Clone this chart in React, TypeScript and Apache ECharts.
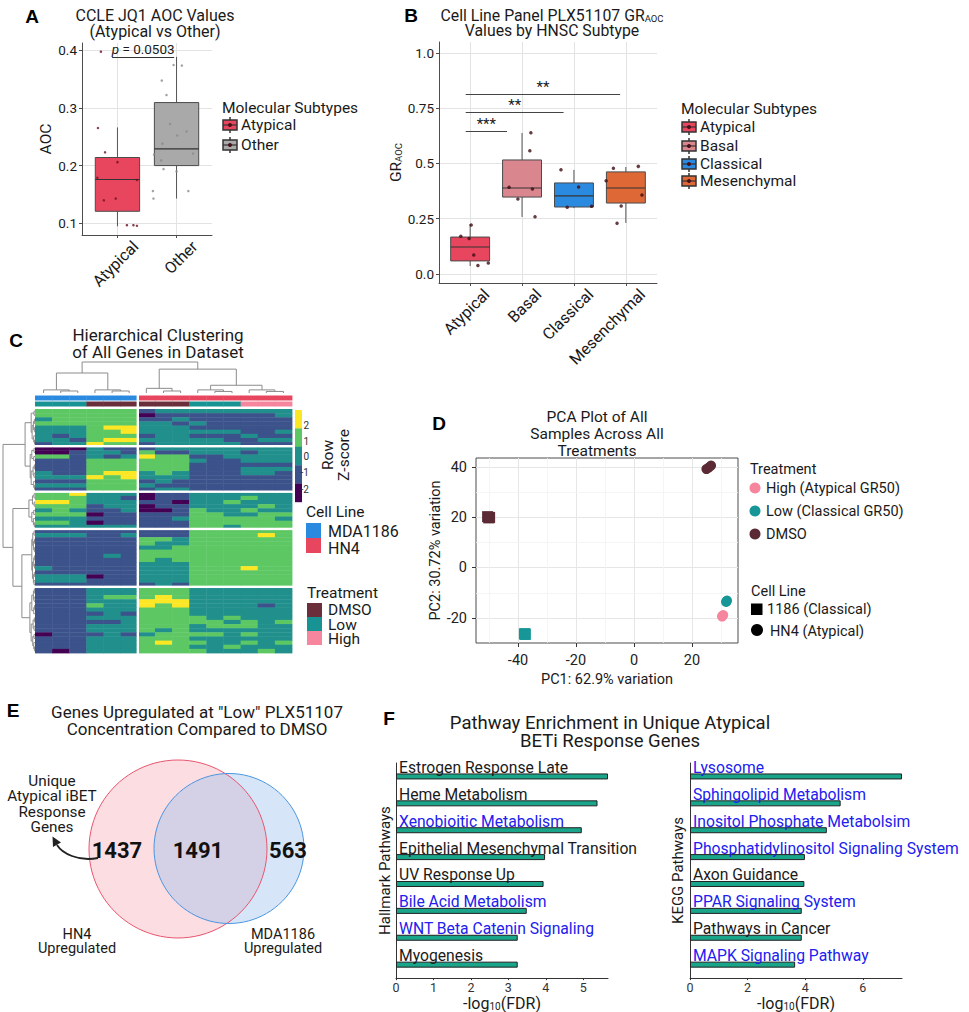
import React, { useEffect, useRef } from 'react';
import * as echarts from 'echarts';

const FONT = 'Roboto, "Noto Sans", "DejaVu Sans", sans-serif';
const LETTER_FONT = '"Liberation Sans", Arial, sans-serif';
const INK = '#1a1a1a';
const GRID_LINE = '#e3e3e3';
const AXIS = '#4d4d4d';
const LINK = '#2020f0';

// ---------------- Panel A ----------------
const aCategories = ['Atypical', 'Other'];
const aBoxMin = [0.095, 0.143];
const aBoxQ1 = [0.121, 0.2];
const aBoxMedian = [0.176, 0.229];
const aBoxQ3 = [0.214, 0.309];
const aBoxMax = [0.266, 0.388];
const aYTicks = [0.1, 0.2, 0.3, 0.4];
const aAtypicalJitter = [-0.28, -0.33, -0.21, 0.0, -0.34, 0.33, -0.23, -0.03, 0.16, 0.27, 0.33];
const aAtypicalValues = [0.397, 0.265, 0.223, 0.206, 0.179, 0.175, 0.14, 0.143, 0.097, 0.097, 0.096];
const aOtherJitter = [-0.05, 0.09, -0.25, -0.17, -0.11, 0.01, 0.17, -0.24, -0.38, 0.28, -0.26, -0.22, 0.0, -0.4, 0.2, -0.39];
const aOtherValues = [0.374, 0.373, 0.347, 0.322, 0.272, 0.252, 0.259, 0.238, 0.219, 0.221, 0.209, 0.194, 0.19, 0.156, 0.156, 0.143];
const aTestP = '0.0503';
const aTestFrom = -0.09;
const aTestTo = 0.96;
const aTestY = 0.388;

// ---------------- Panel B ----------------
const bCategories = ['Atypical', 'Basal', 'Classical', 'Mesenchymal'];
const bBoxMin = [0.036, 0.258, 0.298, 0.231];
const bBoxQ1 = [0.059, 0.348, 0.303, 0.321];
const bBoxMedian = [0.122, 0.389, 0.353, 0.389];
const bBoxQ3 = [0.167, 0.516, 0.412, 0.462];
const bBoxMax = [0.226, 0.638, 0.471, 0.484];
const bYTicks = [0, 0.25, 0.5, 0.75, 1];
const bPointGroup = [0, 0, 0, 0, 0, 0, 1, 1, 1, 1, 1, 1, 2, 2, 2, 2, 3, 3, 3, 3, 3, 3];
const bPointJitter = [-0.18, -0.02, 0.02, 0.07, 0.15, 0.35, 0.17, 0.15, -0.25, 0.2, -0.08, 0.25, -0.25, 0.09, -0.13, 0.34, -0.24, 0.24, -0.38, 0.31, -0.09, -0.17];
const bPointValues = [0.171, 0.16, 0.222, 0.086, 0.038, 0.05, 0.639, 0.558, 0.392, 0.385, 0.339, 0.259, 0.472, 0.394, 0.302, 0.306, 0.478, 0.487, 0.422, 0.357, 0.308, 0.229];
const bSigLabels = ['***', '**', '**'];
const bSigFrom = [-0.086, -0.086, -0.086];
const bSigTo = [0.71, 1.8, 2.89];
const bSigY = [0.647, 0.733, 0.814];

const subtypeColors = ['#e8465f', '#d9868f', '#2a8ae0', '#df6936'];
const aColors = ['#e8465f', '#a9a9a9'];

// ---------------- Panel C ----------------
// P=-2 B=-1 T=0 G=1 Y=2 (row z-score levels)
const zLevels = 'PBTGY';
const zColors = ['#440154', '#3b528b', '#21908c', '#5dc863', '#fde725'];
const zLabels = ['2', '1', '0', '-1', '-2'];
const heatRows = [
  'GGGGGGBTTTTTTTT', 'GGGGGGPBBBBBBBT', 'TGGGGGBBTBBBBBB', 'GGGGGGTTBTBBBBB', 'TTTGYYTTTBBBBBB',
  'TTTGGYTTTTTTBBT', 'TBTGGGBTTBBBTBB', 'TTBGYYTTTTTBBTT', 'BTTYGGBTTTTTBBB',
  'PPPTBBBTTTTTTTT', 'PPBTTBGBBTTTBTT', 'GGBTBTYGGBBTTTT', 'BBBGGGGGGTBBTTT', 'BBBGGGGGGBBBBBB',
  'BBBGGGGGGBBBTTT', 'TBBGYYTGTBBBTTB', 'TTTYGYTTTBBBBBB', 'BBBGGGBTBBBBBBB', 'TTTGGGTBBBBBBBB',
  'BBBGGGBTTBBBBBB',
  'GGYTTTPBBTTTTTT', 'GGGTTBPBBTTTGTT', 'YYGTTTBBPTTGTTT', 'GGGBTTPBBTTTTGT', 'TGTBBTPPBGTTGTT',
  'GGGPBBBBBGGTTGG', 'TTTBBBBBTGGGGGT', 'GGTPBBBBBGGGGGG', 'TTTTTTBBBGGTGGG',
  'BBBBBBBBBGGGGGG', 'TTTBBTBBBGGGGYG', 'BBBBBBGGTGGGGGG', 'BBBBBBGTTGGGGGG', 'BBBBBBTTGGGGGGG',
  'BBBBBBGGGGGGGGG', 'BBBBTBGGGGGGGGG', 'BBBBBBGTGGGGGGG', 'BBBBBBTTTGGGGGG', 'TBBBBBTTTGGGYGG',
  'BBBBBBTTTGGGGGG', 'TTTPBBTTTGGGGGG', 'TTTBBBTTTGGGGGG', 'BBBBBBBTBGGGGGG',
  'BBBTTTGGGTTTTTT', 'BBBTTTGGGTTTTTT', 'BBBTGGGYGTTTTTT', 'BBBTTTYYYTTTTTT', 'BBBGTTYGYTTTTBT',
  'BBBTTTGGGTTTTTT', 'BBBBTBGGGTTTTTT', 'BBBTTTGGGGTGTTT', 'BBBBBTGGGGGTGTG', 'BBBTTTGGGTGGGTT',
  'BBBTTTGTGTTTTTT', 'PBBBTBTGGGGTGTT', 'BBBTTTGGGTTTTTT', 'BBBTTTGYGGTTGTG', 'BBBTTTGGGTTGTTT',
  'BPBTTTGGGGTTTGT',
];
const heatRowBreaks = [9, 20, 29, 43];
const heatColBreaks = [6];
const cellLineByCol = ['MDA1186', 'MDA1186', 'MDA1186', 'MDA1186', 'MDA1186', 'MDA1186', 'HN4', 'HN4', 'HN4', 'HN4', 'HN4', 'HN4', 'HN4', 'HN4', 'HN4'];
const treatmentByCol = ['Low', 'Low', 'Low', 'DMSO', 'DMSO', 'DMSO', 'DMSO', 'DMSO', 'DMSO', 'Low', 'Low', 'Low', 'High', 'High', 'High'];
const annotNames = ['MDA1186', 'HN4', 'DMSO', 'Low', 'High'];
const annotColors = ['#2a8ae0', '#e8465f', '#6b2f3c', '#179393', '#f5869e'];
// dendrograms: node = [height, left, right], leaf = index
const colTree = [1.0,
  [0.645, [0.1, 0, [0.065, 1, 2]], [0.1, 3, [0.065, 4, 5]]],
  [0.77, [0.15, 6, [0.065, 7, 8]], [0.25, [0.1, 9, [0.05, 10, 11]], [0.1, 12, [0.05, 13, 14]]]]];
const rowB1 = [0.12, [0.03, 0, 1], [0.09, [0.05, [0.02, 2, 3], [0.02, 4, 5]], [0.04, 6, [0.015, 7, 8]]]];
const rowB2 = [0.15, [0.1, [0.03, 9, 10], [0.04, 11, 12]], [0.12, [0.06, [0.02, 13, 14], [0.03, 15, 16]], [0.04, 17, [0.015, 18, 19]]]];
const rowB3 = [0.19, [0.08, [0.03, 20, 21], [0.025, 22, 23]], [0.1, [0.04, 24, 25], [0.05, 26, [0.02, 27, 28]]]];
const rowB4 = [0.1, [0.07, [0.03, 29, 30], [0.05, [0.015, 31, 32], [0.02, 33, 34]]], [0.08, [0.04, [0.02, 35, 36], [0.015, 37, 38]], [0.05, [0.02, 39, 40], [0.03, 41, 42]]]];
const rowB5 = [0.16, [0.1, [0.05, [0.02, 43, 44], [0.03, 45, 46]], [0.04, [0.015, 47, 48], 49]], [0.12, [0.06, [0.02, 50, 51], [0.03, 52, 53]], [0.07, [0.03, 54, 55], [0.04, 56, [0.015, 57, 58]]]]];
const rowTree = [1.0, [0.31, rowB1, rowB2], [0.69, rowB3, [0.41, rowB4, rowB5]]];

// ---------------- Panel D ----------------
const pcaPC1 = [-50.5, -50.1, -49.8, -37.8, -37.5, -37.6, 25.0, 25.8, 26.6, 31.9, 32.1, 31.8, 30.5, 30.8, 30.4];
const pcaPC2 = [20.3, 19.8, 20.0, -26.3, -26.5, -26.2, 39.2, 39.8, 40.6, -13.4, -13.0, -13.6, -19.2, -18.8, -19.4];
const pcaTreatment = ['DMSO', 'DMSO', 'DMSO', 'Low', 'Low', 'Low', 'DMSO', 'DMSO', 'DMSO', 'Low', 'Low', 'Low', 'High', 'High', 'High'];
const pcaCellLine = ['1186', '1186', '1186', '1186', '1186', '1186', 'HN4', 'HN4', 'HN4', 'HN4', 'HN4', 'HN4', 'HN4', 'HN4', 'HN4'];
const pcaTreatments = ['High', 'Low', 'DMSO'];
const pcaTreatmentLabels = ['High (Atypical GR50)', 'Low (Classical GR50)', 'DMSO'];
const pcaTreatmentColors = ['#f5869e', '#169696', '#5b2a35'];
const pcaCellLines = ['1186', 'HN4'];
const pcaCellLineLabels = ['1186 (Classical)', 'HN4 (Atypical)'];
const pcaXTicks = [-40, -20, 0, 20];
const pcaYTicks = [-20, 0, 20, 40];
const pcaXMinor = [-50, -30, -10, 10, 30];
const pcaYMinor = [-10, 10, 30];

// ---------------- Panel E ----------------
const vennCounts = [1437, 1491, 563];
const vennSetLabels = ['HN4\nUpregulated', 'MDA1186\nUpregulated'];

// ---------------- Panel F ----------------
const hallmarkPathways = ['Estrogen Response Late', 'Heme Metabolism', 'Xenobioitic Metabolism', 'Epithelial Mesenchymal Transition', 'UV Response Up', 'Bile Acid Metabolism', 'WNT Beta Catenin Signaling', 'Myogenesis'];
const hallmarkScores = [5.66, 5.38, 4.96, 3.98, 3.94, 3.49, 3.25, 3.25];
const hallmarkLinked = [false, false, true, false, false, true, true, false];
const keggPathways = ['Lysosome', 'Sphingolipid Metabolism', 'Inositol Phosphate Metabolsim', 'Phosphatidylinositol Signaling System', 'Axon Guidance', 'PPAR Signaling System', 'Pathways in Cancer', 'MAPK Signaling Pathway'];
const keggScores = [7.36, 5.23, 4.75, 3.99, 3.97, 3.88, 3.88, 3.65];
const keggLinked = [true, true, true, true, false, true, false, true];

// ---------------- helpers ----------------
function txt(x: number, y: number, text: string, o: any = {}) {
  return {
    type: 'text', x, y, rotation: o.rotation || 0, silent: true, z: 10,
    style: {
      text, fill: o.color || INK, fontSize: o.size || 14, fontFamily: o.family || FONT,
      fontWeight: o.weight || 'normal', fontStyle: o.italic ? 'italic' : 'normal',
      align: o.align || 'left', verticalAlign: o.va || 'middle', lineHeight: o.lh, rich: o.rich,
    },
  };
}

function boxKey(x: number, y: number, fill: string) {
  return {
    type: 'group', silent: true, z: 10, children: [
      { type: 'line', shape: { x1: x + 7, y1: y - 8, x2: x + 7, y2: y + 8 }, style: { stroke: '#333', lineWidth: 1.5 } },
      { type: 'rect', shape: { x, y: y - 5, width: 14, height: 10 }, style: { fill, stroke: '#333', lineWidth: 1.5 } },
      { type: 'line', shape: { x1: x, y1: y, x2: x + 14, y2: y }, style: { stroke: '#333', lineWidth: 1.2 } },
      { type: 'circle', shape: { cx: x + 7, cy: y, r: 2 }, style: { fill: '#4a0f18' } },
    ],
  };
}

function boxRenderer(fills: string[]) {
  return (params: any, api: any) => {
    const x = api.value(0);
    const lo = api.coord([x, api.value(1)]);
    const q1 = api.coord([x, api.value(2)]);
    const md = api.coord([x, api.value(3)]);
    const q3 = api.coord([x, api.value(4)]);
    const hi = api.coord([x, api.value(5)]);
    const half = api.size([0.75, 0])[0] / 2;
    const ws = { stroke: '#555', lineWidth: 1 };
    return {
      type: 'group', children: [
        { type: 'line', shape: { x1: lo[0], y1: lo[1], x2: q1[0], y2: q1[1] }, style: ws },
        { type: 'line', shape: { x1: q3[0], y1: q3[1], x2: hi[0], y2: hi[1] }, style: ws },
        { type: 'rect', shape: { x: q1[0] - half, y: q3[1], width: 2 * half, height: q1[1] - q3[1] }, style: { fill: fills[params.dataIndex], stroke: '#4a4a4a', lineWidth: 1 } },
        { type: 'line', shape: { x1: md[0] - half, y1: md[1], x2: md[0] + half, y2: md[1] }, style: { stroke: '#333', lineWidth: 1.2 } },
      ],
    };
  };
}

function treeSegments(tree: any) {
  const segs: number[][] = [];
  const walk = (n: any): { p: number; h: number } => {
    if (!Array.isArray(n)) return { p: n + 0.5, h: 0 };
    const l = walk(n[1]);
    const r = walk(n[2]);
    segs.push([l.p, l.h, r.p, r.h, n[0]]);
    return { p: (l.p + r.p) / 2, h: n[0] };
  };
  walk(tree);
  return segs;
}

function dendroRenderer(horizontal: boolean) {
  return (params: any, api: any) => {
    const pl = api.value(0), hl = api.value(1), pr = api.value(2), hr = api.value(3), h = api.value(4);
    const pts = horizontal
      ? [[pl, hl], [pl, h], [pr, h], [pr, hr]]
      : [[hl, pl], [h, pl], [h, pr], [hr, pr]];
    return { type: 'polyline', shape: { points: pts.map((p) => api.coord(p)) }, style: { stroke: '#8c8c8c', lineWidth: 1, fill: null } };
  };
}

function cellRenderer(colors: string[], rowBreaks: number[], colBreaks: number[], rowInset: number) {
  return (params: any, api: any) => {
    const c = api.value(0), r = api.value(1), k = api.value(2);
    const a = api.coord([c, r]);
    const b = api.coord([c + 1, r + 1]);
    let x0 = Math.min(a[0], b[0]), x1 = Math.max(a[0], b[0]);
    let y0 = Math.min(a[1], b[1]), y1 = Math.max(a[1], b[1]);
    const ov = 0.4;
    x1 += ov; y1 += ov;
    if (colBreaks.indexOf(c) >= 0) x0 += 1.2;
    if (colBreaks.indexOf(c + 1) >= 0) x1 -= ov + 1.2;
    if (rowBreaks.indexOf(r) >= 0) y0 += 1.2;
    if (rowBreaks.indexOf(r + 1) >= 0) y1 -= ov + 1.2;
    if (rowInset) { y0 += rowInset; y1 -= rowInset + ov; }
    return { type: 'rect', shape: { x: x0, y: y0, width: x1 - x0, height: y1 - y0 }, style: { fill: colors[k] } };
  };
}

const tickFmtB = (v: number) => (v === 0 ? '0.0' : v === 1 ? '1.0' : v === 0.5 ? '0.5' : String(v));

function buildOption() {
  const axisLineStyle = { color: AXIS, width: 1 };
  const catAxis = (grid: number, max: number, cats: string[]) => ({
    gridIndex: grid, type: 'value', min: -0.6, max,
    axisLine: { show: true, onZero: false, lineStyle: axisLineStyle },
    axisTick: { show: true, length: 3, lineStyle: axisLineStyle, customValues: cats.map((_, i) => i) },
    axisLabel: {
      customValues: cats.map((_, i) => i + 0.21), formatter: (v: number) => cats[Math.round(v - 0.21)],
      rotate: 45, verticalAlign: 'top', fontSize: 16, color: INK, fontFamily: FONT, margin: 3,
    },
    splitLine: { show: true, lineStyle: { color: GRID_LINE } },
  });
  const hiddenAxis = (grid: number, min: number, max: number, inverse = false) => ({ gridIndex: grid, type: 'value', min, max, inverse, show: false, axisLine: { onZero: false } });

  const heatData: number[][] = [];
  heatRows.forEach((row, r) => {
    for (let c = 0; c < row.length; c++) heatData.push([c, r, zLevels.indexOf(row[c])]);
  });
  const annotData: number[][] = [];
  cellLineByCol.forEach((v, c) => annotData.push([c, 0, annotNames.indexOf(v)]));
  treatmentByCol.forEach((v, c) => annotData.push([c, 1, annotNames.indexOf(v)]));

  const pcaSeries: any[] = [];
  pcaTreatments.forEach((t, ti) => {
    pcaCellLines.forEach((cl) => {
      const data: number[][] = [];
      pcaPC1.forEach((x, i) => { if (pcaTreatment[i] === t && pcaCellLine[i] === cl) data.push([x, pcaPC2[i]]); });
      if (!data.length) return;
      pcaSeries.push({
        type: 'scatter', xAxisIndex: 6, yAxisIndex: 6, z: 3, silent: true,
        symbol: cl === '1186' ? 'rect' : 'circle', symbolSize: cl === '1186' ? 11 : 10,
        itemStyle: { color: pcaTreatmentColors[ti], opacity: 1 }, data,
      });
    });
  });

  const barSeries = (idx: number, scores: number[], linked: boolean[]) => ({
    type: 'bar', xAxisIndex: idx, yAxisIndex: idx, barWidth: 6, silent: true,
    itemStyle: { color: '#18a58a', borderColor: '#222', borderWidth: 1 },
    label: { show: true, position: [3, 2], align: 'left', verticalAlign: 'bottom', formatter: '{b}', fontSize: 15.7, fontFamily: FONT },
    data: scores.map((v, i) => ({ value: v, label: { color: linked[i] ? LINK : INK } })),
  });

  const fXAxis = (grid: number, max: number, interval: number) => ({
    gridIndex: grid, type: 'value', min: 0, max, interval,
    name: '-log{s|10}(FDR)', nameLocation: 'middle', nameGap: 12,
    nameTextStyle: { fontSize: 16, color: INK, fontFamily: FONT, rich: { s: { fontSize: 10, fontFamily: FONT, color: INK, verticalAlign: 'bottom' } } },
    axisLine: { show: true, onZero: false, lineStyle: { color: '#333' } },
    axisTick: { show: true, length: 2, lineStyle: { color: '#333' } },
    axisLabel: { fontSize: 12.5, color: '#333', fontFamily: FONT, margin: 3, showMaxLabel: false },
    splitLine: { show: false },
  });
  const fYAxis = (grid: number, cats: string[], name: string, gap: number) => ({
    gridIndex: grid, type: 'category', data: cats, inverse: true,
    name, nameLocation: 'middle', nameGap: gap,
    nameTextStyle: { fontSize: 15, color: INK, fontFamily: FONT },
    axisLine: { show: true, onZero: false, lineStyle: { color: '#333' } },
    axisTick: { show: false }, axisLabel: { show: false }, splitLine: { show: false },
  });

  const graphics: any[] = [];
  // panel letters
  [['A', 32, 16], ['B', 411, 15], ['C', 16, 340], ['D', 439, 423], ['E', 13, 710], ['F', 389, 718]].forEach((l: any) =>
    graphics.push(txt(l[1], l[2], l[0], { size: 19, weight: 'bold', family: LETTER_FONT, align: 'center', color: '#000' })));

  // A titles / legend
  graphics.push(txt(155, 23, 'CCLE JQ1 AOC Values\n(Atypical vs Other)', { size: 16, align: 'center', lh: 16 }));
  graphics.push(txt(222, 108, 'Molecular Subtypes', { size: 15.5 }));
  aCategories.forEach((c, i) => {
    graphics.push(boxKey(223, 125 + i * 20, aColors[i]));
    graphics.push(txt(241, 125 + i * 20, c, { size: 15.5 }));
  });
  // B titles / legend
  graphics.push(txt(552, 15, '{t|Cell Line Panel PLX51107 GR}{s|AOC}', { align: 'center', rich: { t: { fontSize: 15.8, fontFamily: FONT, color: INK }, s: { fontSize: 9.5, fontFamily: FONT, color: INK, verticalAlign: 'bottom' } } }));
  graphics.push(txt(552, 30.5, 'Values by HNSC Subtype', { size: 15.8, align: 'center' }));
  graphics.push(txt(681, 109, 'Molecular Subtypes', { size: 15.5 }));
  const bLegY = [127, 146, 164, 181];
  bCategories.forEach((c, i) => {
    graphics.push(boxKey(682, bLegY[i], subtypeColors[i]));
    graphics.push(txt(700, bLegY[i], c, { size: 15.5, lh: 17 }));
  });

  // C title, colour bar, legends
  graphics.push(txt(158, 343, 'Hierarchical Clustering\nof All Genes in Dataset', { size: 17, align: 'center', lh: 17 }));
  zColors.slice().reverse().forEach((col, i) => {
    graphics.push({ type: 'rect', silent: true, shape: { x: 295, y: 410 + i * 18.4, width: 7, height: 18.6 }, style: { fill: col } });
  });
  const zLabelY = [425, 441, 456, 472, 489];
  zLabels.forEach((t, i) => graphics.push(txt(309, zLabelY[i], t, { size: 10, align: 'right', color: '#333' })));
  graphics.push(txt(336, 455, 'Row\nZ-score', { size: 15.5, align: 'center', rotation: Math.PI / 2, lh: 15.5 }));
  graphics.push(txt(306, 512, 'Cell Line', { size: 15.5 }));
  ['MDA1186', 'HN4'].forEach((n, i) => {
    graphics.push({ type: 'rect', silent: true, shape: { x: 306, y: 523 + i * 15, width: 15, height: 15 }, style: { fill: annotColors[annotNames.indexOf(n)] } });
    graphics.push(txt(328, 531 + i * 17.5, n, { size: 16, lh: 17 }));
  });
  graphics.push(txt(307, 593, 'Treatment', { size: 15.5 }));
  ['DMSO', 'Low', 'High'].forEach((n, i) => {
    graphics.push({ type: 'rect', silent: true, shape: { x: 307, y: 603 + i * 14, width: 15, height: 14 }, style: { fill: annotColors[annotNames.indexOf(n)] } });
    graphics.push(txt(328, 610 + i * 14.7, n, { size: 15.5, lh: 14.5 }));
  });

  // D title & legend
  graphics.push(txt(597, 434, 'PCA Plot of All\nSamples Across All\nTreatments', { size: 15.5, align: 'center', lh: 17 }));
  graphics.push(txt(750, 469, 'Treatment', { size: 14.5 }));
  const dLegY = [488, 511, 534];
  pcaTreatmentLabels.forEach((t, i) => {
    graphics.push({ type: 'circle', silent: true, shape: { cx: 755, cy: dLegY[i], r: 5.5 }, style: { fill: pcaTreatmentColors[i] } });
    graphics.push(txt(766, dLegY[i], t, { size: 14.5 }));
  });
  graphics.push(txt(751, 591, 'Cell Line', { size: 14.5 }));
  graphics.push({ type: 'rect', silent: true, shape: { x: 751, y: 603.5, width: 11.5, height: 11.5 }, style: { fill: '#000' } });
  graphics.push(txt(767, 609, pcaCellLineLabels[0], { size: 14.5 }));
  graphics.push({ type: 'circle', silent: true, shape: { cx: 757, cy: 630, r: 6 }, style: { fill: '#000' } });
  graphics.push(txt(770, 631, pcaCellLineLabels[1], { size: 14.5 }));

  // E venn
  graphics.push(txt(197, 720, 'Genes Upregulated at "Low" PLX51107\nConcentration Compared to DMSO', { size: 17, align: 'center', lh: 17 }));
  graphics.push({ type: 'circle', silent: true, shape: { cx: 178, cy: 849, r: 89 }, style: { fill: '#fcdde2' } });
  graphics.push({ type: 'circle', silent: true, shape: { cx: 229, cy: 848.5, r: 75 }, style: { fill: 'rgba(140,185,235,0.36)' } });
  graphics.push({ type: 'circle', silent: true, shape: { cx: 178, cy: 849, r: 89 }, style: { fill: null, stroke: '#e8566e', lineWidth: 1 } });
  graphics.push({ type: 'circle', silent: true, shape: { cx: 229, cy: 848.5, r: 75 }, style: { fill: null, stroke: '#4a96e0', lineWidth: 1 } });
  const vennX = [117, 198, 288];
  vennCounts.forEach((n, i) => graphics.push(txt(vennX[i], 850, String(n), { size: 22, weight: 'bold', align: 'center', color: '#111' })));
  graphics.push(txt(52, 804, 'Unique\nAtypical iBET\nResponse\nGenes', { size: 15.3, align: 'center', lh: 15.3 }));
  graphics.push({ type: 'bezierCurve', silent: true, shape: { x1: 98, y1: 858, cpx1: 78, cpy1: 862, cpx2: 62, cpy2: 853, x2: 57, y2: 845 }, style: { stroke: '#222', lineWidth: 1.8, fill: null } });
  graphics.push({ type: 'polygon', silent: true, shape: { points: [[52.5, 836.5], [61, 842.5], [53, 847]] }, style: { fill: '#222' } });
  graphics.push(txt(77, 941.5, vennSetLabels[0], { size: 14.5, align: 'center', lh: 14.5 }));
  graphics.push(txt(283, 941.5, vennSetLabels[1], { size: 14.5, align: 'center', lh: 14.5 }));

  // F title
  graphics.push(txt(610, 732, 'Pathway Enrichment in Unique Atypical\nBETi Response Genes', { size: 18.5, align: 'center', lh: 18.5 }));

  return {
    animation: false,
    backgroundColor: '#ffffff',
    textStyle: { fontFamily: FONT },
    grid: [
      { left: 82, top: 43, width: 130, height: 192 },
      { left: 439, top: 42, width: 218, height: 241 },
      { left: 35, top: 409, width: 257, height: 244 },
      { left: 35, top: 395, width: 257, height: 12 },
      { left: 35, top: 362, width: 257, height: 31 },
      { left: 3, top: 409, width: 32, height: 244 },
      { left: 476, top: 458, width: 262, height: 185, show: true, borderColor: '#4d4d4d', borderWidth: 1, backgroundColor: 'transparent' },
      { left: 396, top: 763, width: 212, height: 217 },
      { left: 690, top: 763, width: 212, height: 217 },
    ],
    xAxis: [
      catAxis(0, 1.6, aCategories),
      catAxis(1, 3.6, bCategories),
      hiddenAxis(2, 0, 15),
      hiddenAxis(3, 0, 15),
      hiddenAxis(4, 0, 15),
      hiddenAxis(5, 0, 1, true),
      {
        gridIndex: 6, type: 'value', min: -54.5, max: 35.9,
        name: 'PC1: 62.9% variation', nameLocation: 'middle', nameGap: 29,
        nameTextStyle: { fontSize: 14.5, color: INK, fontFamily: FONT },
        axisLine: { show: false, onZero: false },
        axisTick: { show: true, length: 4, lineStyle: { color: '#333' }, customValues: pcaXTicks },
        axisLabel: { customValues: pcaXTicks, fontSize: 14.5, color: '#222', fontFamily: FONT, margin: 10 },
        splitLine: { show: true, lineStyle: { color: '#e6e6e6' } },
      },
      fXAxis(7, Math.max(...hallmarkScores), 1),
      fXAxis(8, Math.max(...keggScores), 2),
    ],
    yAxis: [
      {
        gridIndex: 0, type: 'value', min: 0.08, max: 0.412,
        name: 'AOC', nameLocation: 'middle', nameGap: 18,
        nameTextStyle: { fontSize: 15.5, color: INK, fontFamily: FONT },
        axisLine: { show: true, onZero: false, lineStyle: axisLineStyle },
        axisTick: { show: true, length: 3, lineStyle: axisLineStyle, customValues: aYTicks },
        axisLabel: { customValues: aYTicks, formatter: (v: number) => v.toFixed(1), fontSize: 13.5, color: INK, fontFamily: FONT, margin: 5 },
        splitLine: { show: true, lineStyle: { color: GRID_LINE } },
      },
      {
        gridIndex: 1, type: 'value', min: -0.041, max: 1.05,
        name: 'GR{s|AOC}', nameLocation: 'middle', nameGap: 24,
        nameTextStyle: { fontSize: 15.5, color: INK, fontFamily: FONT, rich: { s: { fontSize: 9.5, fontFamily: FONT, color: INK, verticalAlign: 'bottom' } } },
        axisLine: { show: true, onZero: false, lineStyle: axisLineStyle },
        axisTick: { show: true, length: 3, lineStyle: axisLineStyle, customValues: bYTicks },
        axisLabel: { customValues: bYTicks, formatter: tickFmtB, fontSize: 13.5, color: INK, fontFamily: FONT, margin: 5 },
        splitLine: { show: true, lineStyle: { color: GRID_LINE } },
      },
      hiddenAxis(2, 0, heatRows.length, true),
      hiddenAxis(3, 0, 2, true),
      hiddenAxis(4, 0, 1),
      hiddenAxis(5, 0, heatRows.length, true),
      {
        gridIndex: 6, type: 'value', min: -29.9, max: 43.6,
        name: 'PC2: 30.72% variation', nameLocation: 'middle', nameGap: 30,
        nameTextStyle: { fontSize: 14.5, color: INK, fontFamily: FONT },
        axisLine: { show: false, onZero: false },
        axisTick: { show: true, length: 4, lineStyle: { color: '#333' }, customValues: pcaYTicks },
        axisLabel: { customValues: pcaYTicks, fontSize: 14.5, color: '#222', fontFamily: FONT, margin: 9 },
        splitLine: { show: true, lineStyle: { color: '#e6e6e6' } },
      },
      fYAxis(7, hallmarkPathways, 'Hallmark Pathways', 4),
      fYAxis(8, keggPathways, 'KEGG Pathways', 5),
    ],
    series: [
      // A
      { type: 'custom', xAxisIndex: 0, yAxisIndex: 0, silent: true, z: 2, renderItem: boxRenderer(aColors), encode: { x: 0, y: [1, 2, 3, 4, 5] },
        data: aCategories.map((_, i) => [i, aBoxMin[i], aBoxQ1[i], aBoxMedian[i], aBoxQ3[i], aBoxMax[i]]) },
      { type: 'scatter', xAxisIndex: 0, yAxisIndex: 0, silent: true, z: 3, symbolSize: 2.5, itemStyle: { color: '#6b1020' },
        data: aAtypicalJitter.map((d, i) => [0 + d, aAtypicalValues[i]]),
        markLine: {
          silent: true, symbol: ['none', 'none'], lineStyle: { color: '#333', width: 1, type: 'solid' },
          label: { show: true, position: 'middle', distance: 1, formatter: '{i|p} = ' + aTestP, fontSize: 13.5, color: INK, fontFamily: FONT, rich: { i: { fontStyle: 'italic', fontSize: 13.5, color: INK, fontFamily: FONT } } },
          data: [[{ coord: [aTestFrom, aTestY] }, { coord: [aTestTo, aTestY] }]],
        } },
      { type: 'scatter', xAxisIndex: 0, yAxisIndex: 0, silent: true, z: 3, symbolSize: 2.5, itemStyle: { color: '#8a8a8a' },
        data: aOtherJitter.map((d, i) => [1 + d, aOtherValues[i]]) },
      // B
      { type: 'custom', xAxisIndex: 1, yAxisIndex: 1, silent: true, z: 2, renderItem: boxRenderer(subtypeColors), encode: { x: 0, y: [1, 2, 3, 4, 5] },
        data: bCategories.map((_, i) => [i, bBoxMin[i], bBoxQ1[i], bBoxMedian[i], bBoxQ3[i], bBoxMax[i]]) },
      { type: 'scatter', xAxisIndex: 1, yAxisIndex: 1, silent: true, z: 3, symbolSize: 3.5, itemStyle: { color: '#3d0c14' },
        data: bPointValues.map((v, i) => [bPointGroup[i] + bPointJitter[i], v]),
        markLine: {
          silent: true, symbol: ['none', 'none'], lineStyle: { color: '#444', width: 1.2, type: 'solid' },
          label: { show: true, position: 'middle', distance: 0, formatter: '{b}', fontSize: 15, color: INK, fontFamily: FONT },
          data: bSigLabels.map((lab, i) => [{ name: lab, coord: [bSigFrom[i], bSigY[i]] }, { coord: [bSigTo[i], bSigY[i]] }]),
        } },
      // C
      { type: 'custom', xAxisIndex: 2, yAxisIndex: 2, silent: true, renderItem: cellRenderer(zColors, heatRowBreaks, heatColBreaks, 0), encode: { x: 0, y: 1 }, data: heatData },
      { type: 'custom', xAxisIndex: 3, yAxisIndex: 3, silent: true, renderItem: cellRenderer(annotColors, [], heatColBreaks, 0.5), encode: { x: 0, y: 1 }, data: annotData },
      { type: 'custom', xAxisIndex: 4, yAxisIndex: 4, silent: true, renderItem: dendroRenderer(true), encode: { x: [0, 2], y: [1, 3, 4] }, data: treeSegments(colTree) },
      { type: 'custom', xAxisIndex: 5, yAxisIndex: 5, silent: true, renderItem: dendroRenderer(false), encode: { x: [1, 3, 4], y: [0, 2] }, data: treeSegments(rowTree) },
      // D
      { type: 'scatter', xAxisIndex: 6, yAxisIndex: 6, silent: true, z: 1, data: [],
        markLine: { silent: true, z: 1, symbol: ['none', 'none'], label: { show: false }, lineStyle: { color: '#f3f3f3', width: 0.8, type: 'solid' },
          data: [...pcaXMinor.map((v) => ({ xAxis: v })), ...pcaYMinor.map((v) => ({ yAxis: v }))] } },
      ...pcaSeries,
      // F
      barSeries(7, hallmarkScores, hallmarkLinked),
      barSeries(8, keggScores, keggLinked),
    ],
    graphic: graphics,
  };
}

export default function App() {
  const ref = useRef<HTMLDivElement>(null);
  useEffect(() => {
    if (!ref.current) return;
    const chart = echarts.init(ref.current, null, { renderer: 'svg' });
    chart.setOption(buildOption() as any);
    return () => chart.dispose();
  }, []);
  return <div ref={ref} style={{ position: 'absolute', left: 0, top: 0, width: 969, height: 1012, background: '#fff' }} />;
}
